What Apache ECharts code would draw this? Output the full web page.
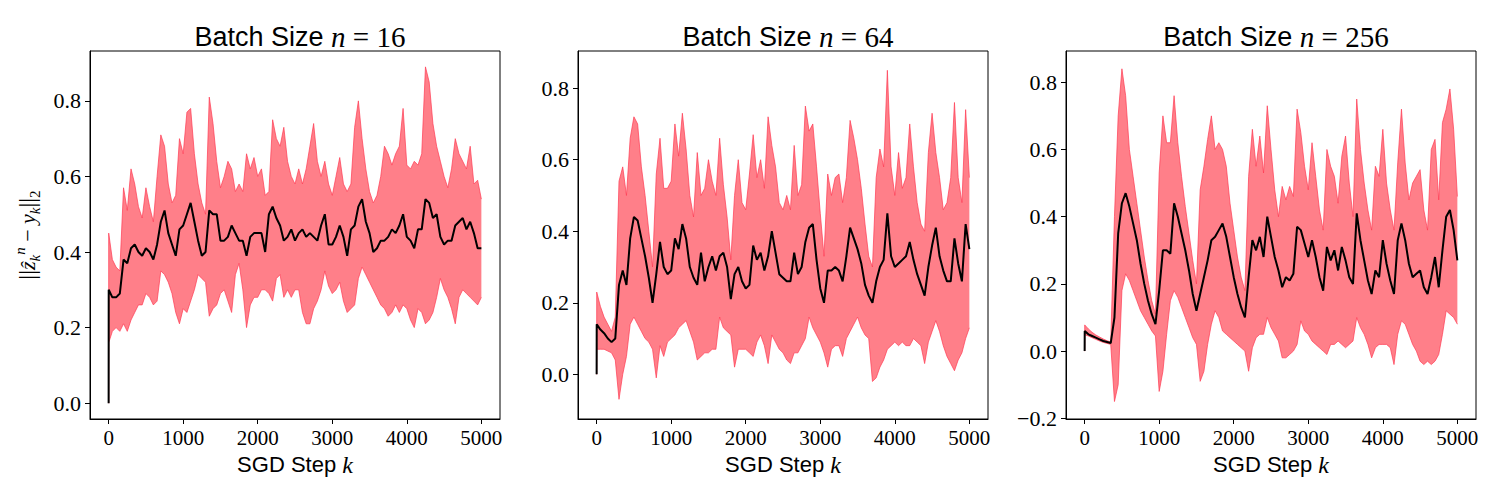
<!DOCTYPE html>
<html><head><meta charset="utf-8">
<script src="https://cdn.jsdelivr.net/npm/echarts@6/dist/echarts.min.js"></script>
<style>html,body{margin:0;padding:0;background:#fff}#c{width:1500px;height:500px}</style>
</head><body><div id="c"></div>
<script>
// SGD step sample positions
const steps = [0,1,50,100,150,200,250,300,350,400,450,
500,550,600,650,700,750,800,850,900,950,
1000,1050,1100,1150,1200,1250,1300,1350,1400,1450,
1500,1550,1600,1650,1700,1750,1800,1850,1900,1950,
2000,2050,2100,2150,2200,2250,2300,2350,2400,2450,
2500,2550,2600,2650,2700,2750,2800,2850,2900,2950,
3000,3050,3100,3150,3200,3250,3300,3350,3400,3450,
3500,3550,3600,3650,3700,3750,3800,3850,3900,3950,
4000,4050,4100,4150,4200,4250,4300,4350,4400,4450,
4500,4550,4600,4650,4700,4750,4800,4850,4900,4950,
5000];

const titles = ['16', '64', '256'];
const xTicks = [0,1000,2000,3000,4000,5000];
const yTicks1 = [0,0.2,0.4,0.6,0.8];
const yTicks2 = [0,0.2,0.4,0.6,0.8];
const yTicks3 = [-0.2,0,0.2,0.4,0.6,0.8];

// Panel 1: n = 16
const mean1 = [0,0.30,
0.28,0.28,0.29,0.38,0.37,0.41,0.42,0.40,0.39,
0.41,0.40,0.38,0.42,0.48,0.51,0.45,0.42,0.39,0.46,
0.47,0.50,0.53,0.48,0.43,0.39,0.40,0.51,0.50,0.50,
0.43,0.43,0.44,0.47,0.45,0.43,0.43,0.39,0.44,0.45,
0.45,0.45,0.40,0.50,0.52,0.49,0.47,0.43,0.44,0.46,
0.43,0.45,0.46,0.44,0.45,0.44,0.43,0.47,0.50,0.42,
0.42,0.44,0.47,0.44,0.39,0.46,0.47,0.52,0.54,0.48,
0.45,0.40,0.41,0.43,0.43,0.44,0.46,0.45,0.47,0.50,
0.44,0.43,0.41,0.46,0.46,0.54,0.53,0.49,0.50,0.44,
0.42,0.43,0.43,0.47,0.48,0.49,0.46,0.48,0.45,0.41,
0.41];
const up1 = [0,0.45,
0.38,0.36,0.35,0.57,0.51,0.62,0.58,0.52,0.49,
0.57,0.52,0.48,0.60,0.71,0.68,0.58,0.53,0.55,0.70,
0.66,0.77,0.78,0.66,0.58,0.53,0.50,0.81,0.74,0.64,
0.57,0.60,0.64,0.62,0.56,0.58,0.56,0.66,0.62,0.65,
0.60,0.62,0.55,0.56,0.75,0.70,0.68,0.73,0.64,0.60,
0.58,0.62,0.58,0.62,0.68,0.74,0.64,0.60,0.64,0.58,
0.55,0.60,0.65,0.58,0.56,0.58,0.73,0.80,0.70,0.62,
0.56,0.53,0.55,0.60,0.68,0.66,0.63,0.66,0.68,0.78,
0.63,0.62,0.64,0.63,0.66,0.89,0.85,0.74,0.68,0.64,
0.60,0.57,0.62,0.70,0.66,0.64,0.62,0.68,0.58,0.59,
0.54];
const lo1 = [0,0.16,
0.19,0.20,0.19,0.21,0.19,0.22,0.24,0.26,0.26,
0.29,0.28,0.26,0.27,0.35,0.34,0.32,0.29,0.24,0.21,
0.25,0.24,0.27,0.30,0.34,0.33,0.32,0.23,0.25,0.26,
0.29,0.30,0.27,0.24,0.34,0.37,0.30,0.20,0.26,0.28,
0.28,0.30,0.30,0.29,0.27,0.33,0.34,0.28,0.30,0.28,
0.30,0.30,0.24,0.21,0.21,0.25,0.27,0.30,0.35,0.31,
0.29,0.30,0.32,0.27,0.24,0.25,0.26,0.33,0.36,0.34,
0.32,0.30,0.28,0.26,0.25,0.23,0.24,0.26,0.24,0.26,
0.25,0.22,0.20,0.25,0.24,0.21,0.22,0.24,0.28,0.33,
0.30,0.28,0.25,0.21,0.28,0.30,0.29,0.28,0.27,0.26,
0.28];

// Panel 2: n = 64
const mean2 = [0,0.14,
0.125,0.115,0.10,0.09,0.10,0.25,0.29,0.25,0.38,
0.44,0.43,0.38,0.33,0.27,0.20,0.28,0.37,0.30,0.28,
0.29,0.38,0.35,0.42,0.38,0.30,0.27,0.25,0.34,0.26,
0.30,0.33,0.29,0.33,0.34,0.30,0.21,0.28,0.30,0.26,
0.24,0.25,0.36,0.32,0.34,0.29,0.33,0.40,0.34,0.28,
0.27,0.26,0.26,0.34,0.28,0.30,0.37,0.41,0.42,0.32,
0.24,0.20,0.29,0.29,0.30,0.29,0.26,0.33,0.41,0.38,
0.35,0.31,0.25,0.22,0.20,0.26,0.30,0.32,0.45,0.33,
0.30,0.31,0.32,0.33,0.37,0.32,0.28,0.25,0.22,0.30,
0.36,0.41,0.33,0.29,0.26,0.26,0.38,0.31,0.26,0.42,
0.35];
const up2 = [0,0.23,
0.19,0.16,0.14,0.12,0.16,0.54,0.58,0.50,0.66,
0.72,0.70,0.58,0.50,0.40,0.30,0.56,0.66,0.52,0.52,
0.54,0.70,0.61,0.73,0.63,0.50,0.44,0.62,0.50,0.52,
0.60,0.54,0.50,0.66,0.53,0.44,0.32,0.50,0.60,0.48,
0.46,0.56,0.67,0.55,0.60,0.52,0.72,0.64,0.58,0.48,
0.46,0.50,0.46,0.64,0.50,0.53,0.75,0.68,0.70,0.58,
0.45,0.33,0.56,0.50,0.55,0.56,0.48,0.55,0.71,0.66,
0.60,0.52,0.42,0.33,0.30,0.55,0.63,0.58,0.85,0.58,
0.50,0.62,0.52,0.55,0.70,0.58,0.48,0.42,0.40,0.62,
0.73,0.62,0.55,0.46,0.48,0.55,0.76,0.55,0.48,0.74,
0.55];
const lo2 = [0,0.07,
0.07,0.07,0.065,0.06,0.04,-0.07,0.00,0.05,0.14,
0.16,0.14,0.12,0.10,0.09,0.07,-0.01,0.08,0.05,0.09,
0.10,0.11,0.13,0.14,0.15,0.12,0.09,0.04,0.05,0.06,
0.06,0.07,0.07,0.16,0.13,0.12,0.11,0.02,0.07,0.07,
0.07,0.06,0.05,0.09,0.11,0.08,0.03,0.11,0.09,0.07,
0.06,0.04,0.03,0.06,0.06,0.08,0.10,0.16,0.13,0.11,
0.09,0.06,0.02,0.07,0.08,0.08,0.05,0.10,0.12,0.14,
0.16,0.13,0.11,0.10,-0.02,-0.01,0.02,0.04,0.07,0.08,
0.09,0.08,0.09,0.08,0.08,0.10,0.09,0.08,0.03,0.09,
0.12,0.15,0.12,0.08,0.05,0.03,0.01,0.04,0.06,0.10,
0.13];

// Panel 3: n = 256
const mean3 = [0,0.06,
0.05,0.045,0.04,0.035,0.03,0.027,0.024,0.10,0.35,
0.44,0.47,0.43,0.38,0.33,0.26,0.20,0.15,0.11,0.08,
0.18,0.30,0.30,0.29,0.44,0.40,0.35,0.30,0.24,0.17,
0.12,0.17,0.22,0.27,0.33,0.34,0.36,0.38,0.34,0.28,
0.22,0.17,0.13,0.10,0.22,0.33,0.30,0.34,0.28,0.40,
0.34,0.28,0.24,0.19,0.22,0.21,0.23,0.37,0.36,0.32,
0.28,0.33,0.28,0.22,0.18,0.31,0.27,0.30,0.24,0.31,
0.27,0.22,0.20,0.41,0.33,0.27,0.21,0.17,0.24,0.22,
0.33,0.26,0.21,0.17,0.33,0.38,0.33,0.26,0.22,0.23,
0.24,0.19,0.17,0.22,0.28,0.19,0.30,0.40,0.42,0.36,
0.27];
const up3 = [0,0.078,
0.066,0.056,0.048,0.042,0.036,0.031,0.027,0.40,0.70,
0.84,0.76,0.60,0.52,0.44,0.36,0.28,0.21,0.15,0.11,
0.53,0.70,0.62,0.62,0.76,0.62,0.52,0.43,0.35,0.27,
0.20,0.48,0.55,0.63,0.70,0.60,0.62,0.60,0.55,0.44,
0.36,0.28,0.22,0.18,0.52,0.66,0.55,0.64,0.53,0.73,
0.60,0.48,0.40,0.49,0.45,0.49,0.46,0.72,0.65,0.55,
0.48,0.62,0.52,0.42,0.36,0.60,0.55,0.52,0.44,0.58,
0.64,0.50,0.40,0.75,0.60,0.50,0.42,0.36,0.55,0.52,
0.66,0.50,0.42,0.36,0.56,0.72,0.56,0.45,0.50,0.52,
0.54,0.42,0.36,0.60,0.63,0.45,0.68,0.72,0.78,0.66,
0.46];
const lo3 = [0,0.049,
0.045,0.04,0.035,0.03,0.026,0.023,0.02,-0.15,-0.10,
0.18,0.23,0.21,0.18,0.15,0.12,0.10,0.08,0.06,0.045,
-0.12,-0.06,0.05,0.15,0.18,0.16,0.13,0.10,0.07,0.04,
0.02,-0.09,-0.06,0.02,0.08,0.12,0.10,0.06,0.05,0.04,
0.03,0.02,0.01,0.00,-0.06,0.01,0.04,0.05,0.05,0.10,
0.07,0.05,0.03,-0.02,-0.02,-0.01,0.00,0.02,0.09,0.06,
0.05,0.03,0.02,0.01,0.00,-0.01,0.02,0.02,0.03,0.02,
0.01,0.02,0.03,0.10,0.07,0.05,0.02,-0.02,0.01,0.02,
0.02,0.02,0.01,-0.04,0.05,0.09,0.08,0.05,0.02,0.00,
-0.03,-0.04,-0.03,-0.04,-0.03,-0.01,0.05,0.12,0.11,0.10,
0.08];

const FILL = '#ff7f89';
const EDGE = '#ff3a52';
const SERIF = '"Liberation Serif", "DejaVu Serif", serif';
const SANS = '"Liberation Sans", Arial, sans-serif';

const panels = [
  {mean: mean1, up: up1, lo: lo1, left: 90, ymin: -0.042, ymax: 0.932, yticks: yTicks1},
  {mean: mean2, up: up2, lo: lo2, left: 578, ymin: -0.125, ymax: 0.904, yticks: yTicks2},
  {mean: mean3, up: up3, lo: lo3, left: 1066, ymin: -0.202, ymax: 0.893, yticks: yTicks3}
];
const GW = 410, GTOP = 51, GH = 368;

const grid = [], xAxis = [], yAxis = [], series = [], title = [];
panels.forEach((p, i) => {
  grid.push({left: p.left, top: GTOP, width: GW, height: GH, show: true,
    borderColor: '#000', borderWidth: 1, backgroundColor: 'transparent'});
  title.push({
    text: '{a|Batch Size }{i|n}{b| = ' + titles[i] + '}',
    left: p.left + GW / 2, top: 17, textAlign: 'center',
    textStyle: {fontWeight: 'normal', rich: {
      a: {fontFamily: SANS, fontSize: 27, fontWeight: 'normal', color: '#000'},
      i: {fontFamily: SERIF, fontStyle: 'italic', fontWeight: 'normal', fontSize: 29, color: '#000'},
      b: {fontFamily: SERIF, fontWeight: 'normal', fontSize: 29, color: '#000'}
    }}
  });
  xAxis.push({
    type: 'value', gridIndex: i, min: -250, max: 5250,
    name: '{a|SGD Step }{i|k}', nameLocation: 'middle', nameGap: 32,
    nameTextStyle: {rich: {
      a: {fontFamily: SANS, fontSize: 22, color: '#000'},
      i: {fontFamily: SERIF, fontStyle: 'italic', fontSize: 24, color: '#000'}
    }},
    axisLine: {show: true, onZero: false, lineStyle: {color: '#000', width: 1}},
    axisTick: {show: true, length: 5, customValues: xTicks, lineStyle: {color: '#000'}},
    axisLabel: {customValues: xTicks, margin: 8, fontFamily: SERIF, fontSize: 21, color: '#000',
      formatter: v => String(v)},
    splitLine: {show: false}
  });
  const ya = {
    type: 'value', gridIndex: i, min: p.ymin, max: p.ymax,
    axisLine: {show: true, onZero: false, lineStyle: {color: '#000', width: 1}},
    axisTick: {show: true, length: 5, customValues: p.yticks, lineStyle: {color: '#000'}},
    axisLabel: {customValues: p.yticks, margin: 9, fontFamily: SERIF, fontSize: 22, color: '#000',
      formatter: v => (v < 0 ? '\u2212' : '') + Math.abs(v).toFixed(1)},
    splitLine: {show: false}
  };
  if (i === 0) {
    ya.name = '{b|||}{i|\u1E91}{sb|k}{sp|n}{n| \u2212 }{i|y}{sb|k}{b|||}{sr|2}';
    ya.nameLocation = 'middle';
    ya.nameGap = 48;
    ya.nameRotate = 90;
    ya.nameTextStyle = {rich: {
      b: {fontFamily: SERIF, fontSize: 24, color: '#000', lineHeight: 30, verticalAlign: 'middle'},
      n: {fontFamily: SERIF, fontSize: 22, color: '#000', lineHeight: 30, verticalAlign: 'middle'},
      i: {fontFamily: SERIF, fontStyle: 'italic', fontSize: 22, color: '#000', lineHeight: 30, verticalAlign: 'middle'},
      sb: {fontFamily: SERIF, fontStyle: 'italic', fontSize: 15, color: '#000', lineHeight: 15, verticalAlign: 'bottom'},
      sp: {fontFamily: SERIF, fontStyle: 'italic', fontSize: 15, color: '#000', lineHeight: 15, verticalAlign: 'top'},
      sr: {fontFamily: SERIF, fontSize: 15, color: '#000', lineHeight: 15, verticalAlign: 'bottom'}
    }};
  }
  yAxis.push(ya);

  // shaded band between lower and upper curves
  series.push({
    type: 'custom', xAxisIndex: i, yAxisIndex: i, z: 1, silent: true, clip: true,
    data: steps.map((k, j) => [k, p.lo[j], p.up[j]]),
    encode: {x: 0, y: [1, 2]},
    renderItem: (params, api) => {
      if (params.dataIndex !== 0) return null;
      const pts = [];
      for (let j = 0; j < steps.length; j++) pts.push(api.coord([steps[j], p.up[j]]));
      for (let j = steps.length - 1; j >= 0; j--) pts.push(api.coord([steps[j], p.lo[j]]));
      return {type: 'polygon', shape: {points: pts}, style: {fill: FILL}};
    }
  });
  series.push({
    type: 'line', xAxisIndex: i, yAxisIndex: i,
    data: steps.map((k, j) => [k, p.up[j]]), symbol: 'none', z: 3, silent: true,
    lineStyle: {color: EDGE, width: 1, opacity: 0.7}
  });
  series.push({
    type: 'line', xAxisIndex: i, yAxisIndex: i,
    data: steps.map((k, j) => [k, p.lo[j]]), symbol: 'none', z: 3, silent: true,
    lineStyle: {color: EDGE, width: 1, opacity: 0.7}
  });
  series.push({
    type: 'line', xAxisIndex: i, yAxisIndex: i,
    data: steps.map((k, j) => [k, p.mean[j]]), symbol: 'none', z: 4, silent: true,
    lineStyle: {color: '#000', width: 2}
  });
});

const chart = echarts.init(document.getElementById('c'), null, {renderer: 'svg'});
chart.setOption({
  animation: false, backgroundColor: '#fff',
  title, grid, xAxis, yAxis, series
});
</script>
</body></html>
